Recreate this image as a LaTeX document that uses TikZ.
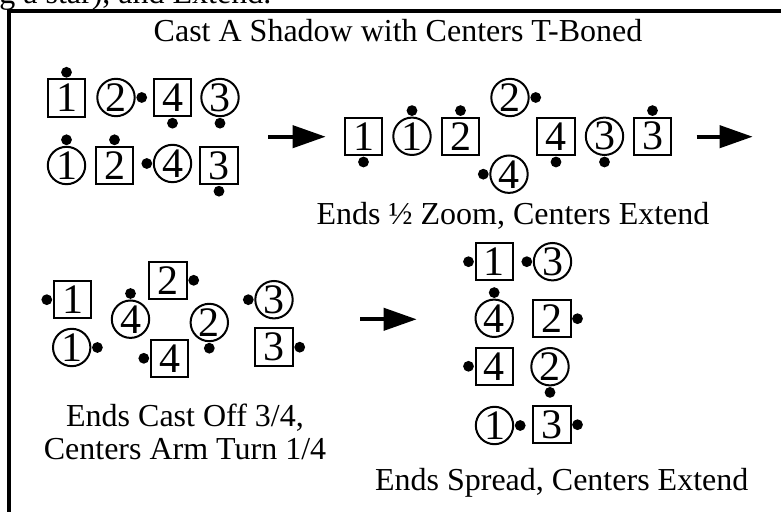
\documentclass[tikz,border=0pt]{standalone}
\usepackage{fontspec}
\setmainfont{Liberation Serif}
\usetikzlibrary{calc,arrows.meta}

\begin{document}
\begin{tikzpicture}[x=0.5pt,y=0.5pt,
        man/.style={draw,line width=1pt,minimum size=18.7pt,inner sep=0pt,font=\fontsize{21}{25}\selectfont},
        lady/.style={man,circle},
        caption/.style={font=\fontsize{16}{19}\selectfont,anchor=base,inner sep=0pt},
        turn/.style={line width=2pt,-{Triangle[length=16.5pt,width=11pt]}}]
        \useasboundingbox (0,0) rectangle (781,-512);
        \node[caption,anchor=base west] (above) at (-1,-4) {g a star), and Extend.};
        \draw[line width=1.65pt] (9,-530) -- (9,-11) -- (800,-11);
        \node[caption] (title) at (398,-41.7) {Cast A Shadow with Centers T-Boned};

        \node[man] (As1) at (66.5,-98) {1};
        \node[lady] (Ac2) at (116,-97.5) {2};
        \node[man] (As4) at (172.5,-97.5) {4};
        \node[lady] (Ac3) at (220,-97.5) {3};
        \node[lady] (Ac1) at (66.5,-165.5) {1};
        \node[man] (As2) at (114.5,-165.5) {2};
        \node[lady] (Ac4) at (172.5,-163.5) {4};
        \node[man] (As3) at (219,-165.5) {3};
        \fill ($(As1.north)+(0,6)$) circle (2.7pt);
        \fill ($(Ac2.east)+(6,0)$) circle (2.7pt);
        \fill ($(As4.south)+(0,-6)$) circle (2.7pt);
        \fill ($(Ac3.south)+(0,-6)$) circle (2.7pt);
        \fill ($(Ac1.north)+(0,6)$) circle (2.7pt);
        \fill ($(As2.north)+(0,6)$) circle (2.7pt);
        \fill ($(Ac4.west)+(-6,0)$) circle (2.7pt);
        \fill ($(As3.south)+(0,-6)$) circle (2.7pt);

        \coordinate (r1) at (268,-136.7);
        \coordinate (r1e) at (325.7,-136.7);
        \draw[turn] (r1) -- (r1e);

        \node[man] (Bs1) at (363.5,-136.3) {1};
        \node[lady] (Bc1) at (412,-136.3) {1};
        \node[man] (Bs2) at (460.5,-136.3) {2};
        \node[lady] (Bc2) at (510,-97.5) {2};
        \node[lady] (Bc4) at (509,-174.2) {4};
        \node[man] (Bs4) at (556,-136.3) {4};
        \node[lady] (Bc3) at (604.5,-136.3) {3};
        \node[man] (Bs3) at (652.5,-136.3) {3};
        \fill ($(Bs1.south)+(0,-6)$) circle (2.7pt);
        \fill ($(Bc1.north)+(0,6)$) circle (2.7pt);
        \fill ($(Bs2.north)+(0,6)$) circle (2.7pt);
        \fill ($(Bc2.east)+(6,0)$) circle (2.7pt);
        \fill ($(Bc4.west)+(-6,0)$) circle (2.7pt);
        \fill ($(Bs4.south)+(0,-6)$) circle (2.7pt);
        \fill ($(Bc3.south)+(0,-6)$) circle (2.7pt);
        \fill ($(Bs3.north)+(0,6)$) circle (2.7pt);
        \node[caption] (Btext) at (513,-225) {Ends ½ Zoom, Centers Extend};

        \coordinate (r2) at (696.7,-136.7);
        \coordinate (r2e) at (752.7,-136.7);
        \draw[turn] (r2) -- (r2e);

        \node[man] (Cs1) at (72.5,-299.7) {1};
        \node[lady] (Cc1) at (71.7,-347.5) {1};
        \node[lady] (Cc4) at (130.5,-319.2) {4};
        \node[man] (Cs2) at (168,-280.3) {2};
        \node[man] (Cs4) at (169.5,-358.3) {4};
        \node[lady] (Cc2) at (209.3,-322.5) {2};
        \node[lady] (Cc3) at (274,-299.7) {3};
        \node[man] (Cs3) at (274,-347.2) {3};
        \fill ($(Cs1.west)+(-6,0)$) circle (2.7pt);
        \fill ($(Cc1.east)+(6,0)$) circle (2.7pt);
        \fill ($(Cc4.north)+(0,6)$) circle (2.7pt);
        \fill ($(Cs2.east)+(6,0)$) circle (2.7pt);
        \fill ($(Cs4.west)+(-6,0)$) circle (2.7pt);
        \fill ($(Cc2.south)+(0,-6)$) circle (2.7pt);
        \fill ($(Cc3.west)+(-6,0)$) circle (2.7pt);
        \fill ($(Cs3.east)+(6,0)$) circle (2.7pt);
        \node[caption] (Ctext) at (185,-426.7) {Ends Cast Off 3/4,};
        \node[caption] (Ctext2) at (185,-460) {Centers Arm Turn 1/4};

        \coordinate (r3) at (360,-319.3);
        \coordinate (r3e) at (416.7,-319.3);
        \draw[turn] (r3) -- (r3e);

        \node[man] (Ds1) at (494.2,-261.7) {1};
        \node[lady] (Dc3) at (552.5,-261.7) {3};
        \node[lady] (Dc4) at (494.2,-318.3) {4};
        \node[man] (Ds2) at (551.8,-318.7) {2};
        \node[man] (Ds4) at (494.2,-366.3) {4};
        \node[lady] (Dc2) at (550,-366.7) {2};
        \node[lady] (Dc1) at (494.5,-425.5) {1};
        \node[man] (Ds3) at (551.8,-424.7) {3};
        \fill ($(Ds1.west)+(-6,0)$) circle (2.7pt);
        \fill ($(Dc3.west)+(-6,0)$) circle (2.7pt);
        \fill ($(Dc4.north)+(0,6)$) circle (2.7pt);
        \fill ($(Ds2.east)+(6,0)$) circle (2.7pt);
        \fill ($(Ds4.west)+(-6,0)$) circle (2.7pt);
        \fill ($(Dc2.south)+(0,-6)$) circle (2.7pt);
        \fill ($(Dc1.east)+(6,0)$) circle (2.7pt);
        \fill ($(Ds3.east)+(6,0)$) circle (2.7pt);
        \node[caption] (Dtext) at (561.7,-490) {Ends Spread, Centers Extend};
    \end{tikzpicture}
\end{document}
